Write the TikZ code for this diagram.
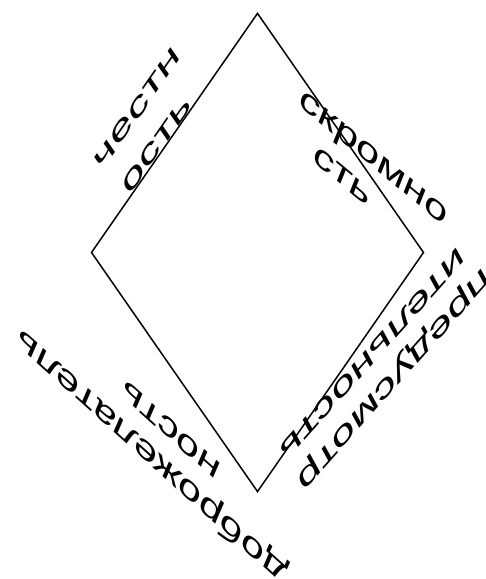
\documentclass[tikz,border=0pt]{standalone}
\usepackage{fontspec}
\setmainfont{Liberation Sans}

\begin{document}
\begin{tikzpicture}[x=1pt, y=-1pt,
  word/.style={transform shape, inner sep=0pt, text height=12pt,
    text depth=0pt, xscale=1.9, font=\fontsize{23}{27}\selectfont},
  edge/.style={draw=black, line width=1.5pt, line join=miter},
]
\useasboundingbox (0,0) rectangle (486,579);
\begin{scope}[yscale=1.44]
% corners of the rhombus
\coordinate (top) at (257.5,9.3);
\coordinate (lft) at (91.5,175.3);
\coordinate (rgt) at (423.5,175.3);
\coordinate (bot) at (257.5,341.3);
\draw[edge] (top) -- (rgt) -- (bot) -- (lft) -- cycle;
% upper left
\node[rotate=45, word] (chest1) at (137.5,75.3) {честн};
\node[rotate=45, word] (chest2) at (157,100.7) {ость};
% upper right
\node[rotate=-30, word] (skrom1) at (373.5,109.4) {скромно};
\node[rotate=-30, word] (skrom2) at (342.5,122.2) {сть};
% lower right
\node[rotate=218, word] (pred1) at (394,263.2) {предусмотр};
\node[rotate=218, word] (pred2) at (372.5,245.5) {ительность};
% lower left
\node[rotate=148, word] (dobr1) at (151.5,316.5) {доброжелатель};
\node[rotate=148, word] (dobr2) at (171,298.5) {ность};
\end{scope}
\end{tikzpicture}
\end{document}
